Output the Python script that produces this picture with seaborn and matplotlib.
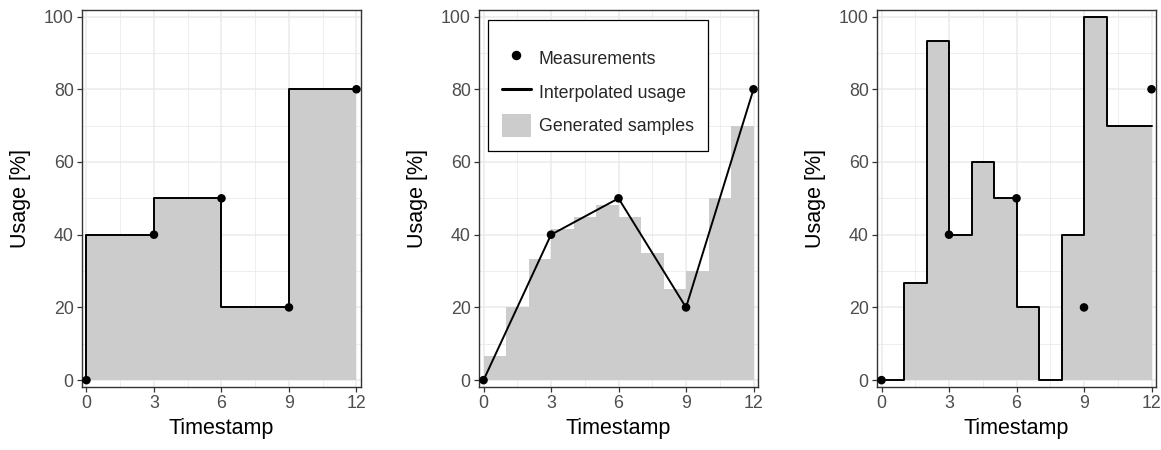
import matplotlib
matplotlib.use('Agg')
import matplotlib.pyplot as plt
from matplotlib.lines import Line2D
from matplotlib.patches import Patch
import pandas as pd
import seaborn as sns

# measurements shared by all three panels
meas_t = [0, 3, 6, 9, 12]
meas_usage = [0, 40, 50, 20, 80]

# panel 1: usage held until the next measurement
hold_t = [0, 3, 6, 9, 12]
hold_usage = [0, 40, 50, 20, 80]

# panel 2: generated samples, one per unit interval
sample_t = [0, 1, 2, 3, 4, 5, 6, 7, 8, 9, 10, 11]
sample_interp = [6.7, 20, 33.3, 41.7, 45, 48.3, 45, 35, 25, 30, 50, 70]

# panel 3: randomly generated samples
step_t = [0, 1, 2, 3, 4, 5, 6, 7, 8, 9, 10, 11, 12]
step_usage = [0, 26.7, 93.3, 40, 60, 50, 20, 0, 40, 100, 70, 70, 70]

x_ticks = [0, 3, 6, 9, 12]
legend_labels = ['Measurements', 'Interpolated usage', 'Generated samples']

sns.set_theme(style='whitegrid')
plt.rcParams['font.family'] = ['Liberation Sans', 'DejaVu Sans']

FILL = '#CCCCCC'
meas = pd.DataFrame({'t': meas_t, 'usage': meas_usage})


def style(ax):
    ax.set_xlim(-0.2, 12.2)
    ax.set_ylim(-1.8, 101.8)
    ax.set_xticks(x_ticks)
    ax.set_xticks([1.5, 4.5, 7.5, 10.5], minor=True)
    ax.set_yticks(range(0, 101, 20))
    ax.set_yticks(range(10, 100, 20), minor=True)
    ax.set_facecolor('white')
    ax.grid(True, which='major', color='#EBEBEB', lw=1.1)
    ax.grid(True, which='minor', color='#EBEBEB', lw=0.6)
    ax.set_axisbelow(True)
    for s in ax.spines.values():
        s.set_visible(True)
        s.set_color('#333333')
        s.set_linewidth(1.0)
    ax.tick_params(which='major', length=3.5, width=0.9, color='#333333',
                   labelcolor='#4D4D4D', labelsize=12.8, pad=2.5,
                   bottom=True, left=True)
    ax.tick_params(which='minor', length=0)
    ax.set_xlabel('Timestamp', fontsize=15.5, color='black', labelpad=4)
    ax.set_ylabel('Usage [%]', fontsize=15.5, color='black', labelpad=9)


fig = plt.figure(figsize=(11.61, 4.5), dpi=100)
w, b, h = 0.2403, 0.1407, 0.8371
ax1 = fig.add_axes([0.0706, b, w, h])
ax2 = fig.add_axes([0.4126, b, w, h])
ax3 = fig.add_axes([0.7554, b, w, h])

# panel 1
ax1.fill_between(hold_t, hold_usage, step='pre', color=FILL, lw=0)
ax1.step(hold_t, hold_usage, where='pre', color='black', lw=1.4)
sns.scatterplot(data=meas, x='t', y='usage', ax=ax1, color='black', s=38,
                edgecolor='none', zorder=5)
style(ax1)

# panel 2
ax2.bar(sample_t, sample_interp, width=1.0, align='edge', color=FILL, lw=0)
sns.lineplot(data=meas, x='t', y='usage', ax=ax2, color='black', lw=1.4)
sns.scatterplot(data=meas, x='t', y='usage', ax=ax2, color='black', s=38,
                edgecolor='none', zorder=5)
style(ax2)
handles = [
    Line2D([], [], marker='o', ls='none', color='black', markersize=5.8),
    Line2D([], [], color='black', lw=2.2),
    Patch(facecolor=FILL, edgecolor='none'),
]
leg = ax2.legend(handles, legend_labels, title=' ', title_fontsize=1,
                 loc='upper left', bbox_to_anchor=(0.032, 0.973), fontsize=12.8,
                 frameon=True, fancybox=False, edgecolor='black', framealpha=1,
                 handlelength=1.6, handleheight=1.6, labelspacing=0.62,
                 borderpad=0.8, handletextpad=0.45, borderaxespad=0)
leg.get_frame().set_linewidth(0.9)

# panel 3
ax3.fill_between(step_t, step_usage, step='post', color=FILL, lw=0)
ax3.step(step_t, step_usage, where='post', color='black', lw=1.4)
sns.scatterplot(data=meas, x='t', y='usage', ax=ax3, color='black', s=38,
                edgecolor='none', zorder=5)
style(ax3)

fig.savefig('out.png', dpi=100)
